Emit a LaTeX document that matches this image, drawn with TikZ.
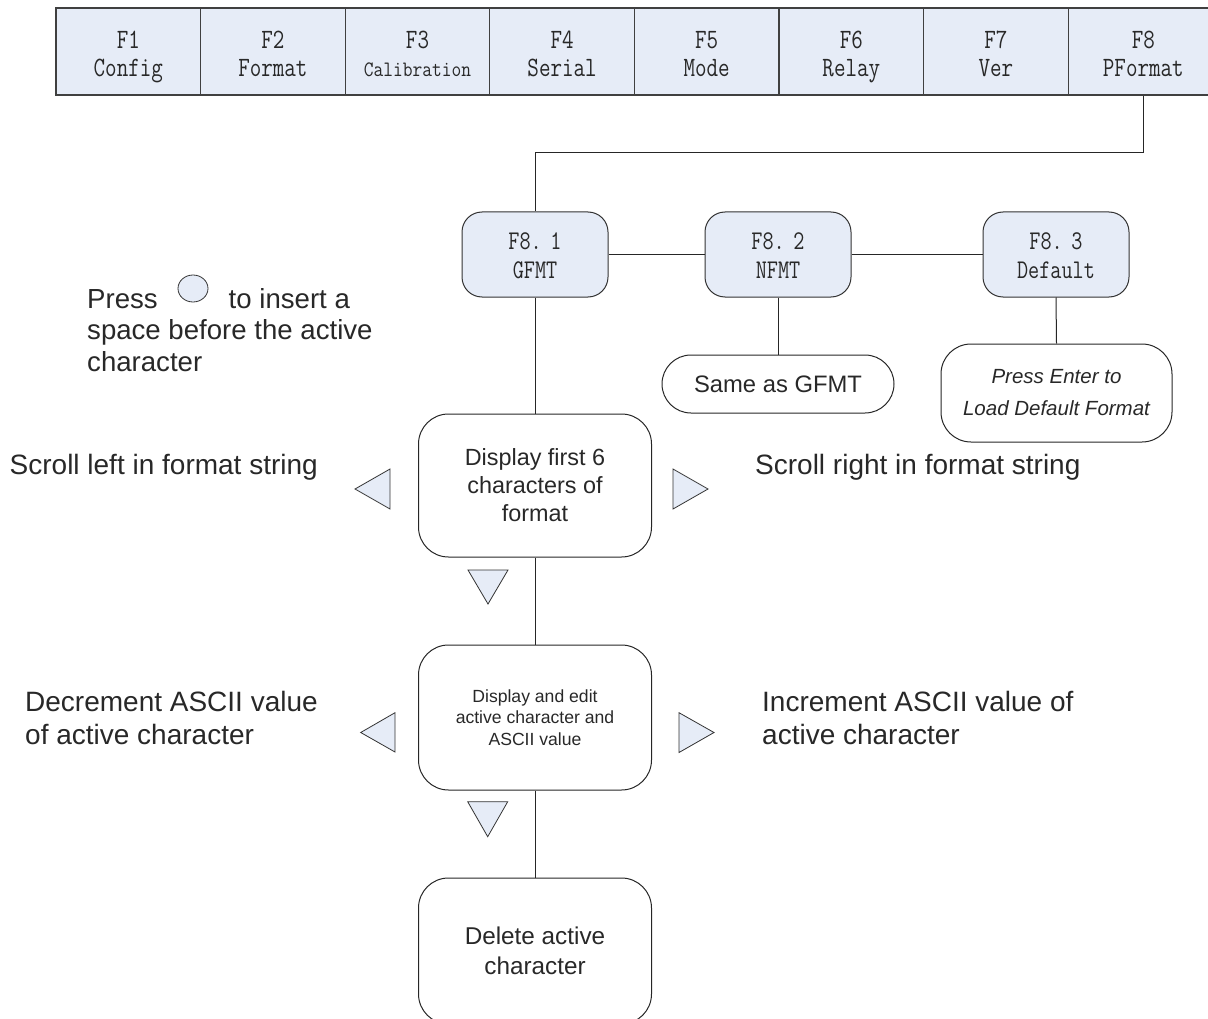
\documentclass[tikz,border=0pt]{standalone}
\usepackage{fontspec}
\setmainfont{Liberation Sans}
\usepackage{graphicx}
\usetikzlibrary{shapes.geometric}
\definecolor{keyblue}{RGB}{230,236,247}
\definecolor{ink}{RGB}{40,40,40}
\newcommand\narrowtxt[1]{\scalebox{0.8}[1]{#1\strut}}
\newcommand\toptxt[1]{\scalebox{0.8}[1]{\rule{0pt}{30pt}#1\strut}}
\newcommand\subtxt[1]{\scalebox{0.8}[1]{\rule{0pt}{27pt}#1\strut}}
\begin{document}
\begin{tikzpicture}[x=1pt,y=-1pt,
  fkey/.style={draw=black!75, fill=keyblue, line width=1.2pt, minimum width=144.6pt, minimum height=87pt, inner sep=0pt, align=center, text=ink, font=\ttfamily\fontsize{28}{28}\selectfont},
  subkey/.style={draw=black!80, fill=keyblue, line width=1pt, rounded corners=20pt, minimum width=146pt, minimum height=85pt, inner sep=0pt, align=center, text=ink, font=\ttfamily\fontsize{27}{29}\selectfont},
  stepbox/.style={draw=black!85, line width=1pt, rounded corners=30pt, minimum width=233pt, inner sep=0pt, align=center, text=ink},
  tri/.style={draw=black!80, fill=keyblue, line width=0.8pt},
  conn/.style={draw=black!85, line width=1pt},
  lbl/.style={inner sep=0pt, align=left, text=ink, font=\fontsize{28}{33}\selectfont}
]
\useasboundingbox (0,0) rectangle (1208,1019);

% top menu bar
\node[fkey] (f1) at (128.3,51.5) {\toptxt{F1}\\\narrowtxt{Config}};
\node[fkey] (f2) at (272.9,51.5) {\toptxt{F2}\\\narrowtxt{Format}};
\node[fkey] (f3) at (417.5,51.5) {\toptxt{F3}\\{\fontsize{22}{28}\selectfont\scalebox{0.86}[1]{Calibration\strut}}};
\node[fkey] (f4) at (562.1,51.5) {\toptxt{F4}\\\narrowtxt{Serial}};
\node[fkey] (f5) at (706.7,51.5) {\toptxt{F5}\\\narrowtxt{Mode}};
\node[fkey] (f6) at (851.3,51.5) {\toptxt{F6}\\\narrowtxt{Relay}};
\node[fkey] (f7) at (995.9,51.5) {\toptxt{F7}\\\narrowtxt{Ver}};
\node[fkey, minimum width=150pt] (f8) at (1143.3,51.5) {\toptxt{F8}\\\narrowtxt{PFormat}};

% F8 sub menu
\node[subkey] (g1) at (535,254.5) {\subtxt{F8.\kern-3pt\ 1}\\\narrowtxt{GFMT}};
\node[subkey] (g2) at (778,254.5) {\subtxt{F8.\kern-3pt\ 2}\\\narrowtxt{NFMT}};
\node[subkey] (g3) at (1056,254.5) {\subtxt{F8.\kern-3pt\ 3}\\\narrowtxt{Default}};

\node[stepbox, rounded corners=29pt, minimum width=232pt, minimum height=58pt, font=\fontsize{23.8}{28}\selectfont] (same) at (778,384) {Same as GFMT};
\node[stepbox, minimum width=231pt, minimum height=98pt, font=\itshape\fontsize{20.5}{32}\selectfont] (dflt) at (1056.5,393) {Press Enter to\\Load Default Format};

\node[stepbox, minimum height=143pt, font=\fontsize{23.4}{28}\selectfont] (s1) at (535,485.5) {Display first 6\\characters of\\format};
\node[stepbox, minimum height=145pt, font=\fontsize{17.6}{21.7}\selectfont] (s2) at (535,717.5) {Display and edit\\active character and\\ASCII value};
\node[stepbox, minimum height=146pt, font=\fontsize{24.3}{30}\selectfont] (s3) at (535,951) {Delete active\\character};

% connectors
\draw[conn] ([xshift=-0.3pt]f8.south) -- ++(0,57) -| (g1.north);
\draw[conn] (g1.east) -- (g2.west);
\draw[conn] (g2.east) -- (g3.west);
\draw[conn] (g2.south) -- (same.north);
\draw[conn] (g3.south) -- (dflt.north);
\draw[conn] (g1.south) -- (s1.north);
\draw[conn] (s1.south) -- (s2.north);
\draw[conn] (s2.south) -- (s3.north);

% key triangles
\draw[tri] (355,489) -- (390,469) -- (390,509) -- cycle;
\draw[tri] (708,489) -- (673,469) -- (673,509) -- cycle;
\draw[tri] (468,570) -- (508,570) -- (488,604) -- cycle;
\draw[tri] (360.7,732.5) -- (395,712.7) -- (395,752) -- cycle;
\draw[tri] (714,732.5) -- (679,712.7) -- (679,752.5) -- cycle;
\draw[tri] (467.7,801.7) -- (507.7,801.7) -- (487.7,836.7) -- cycle;

% side labels
\node[lbl, anchor=east] (tl1) at (318,467) {Scroll left in format string};
\node[lbl, anchor=west] (tr1) at (755,467) {Scroll right in format string};
\node[lbl, anchor=west] (tl2) at (25,718) {Decrement ASCII value\\of active character};
\node[lbl, anchor=west] (tr2) at (762,718) {Increment ASCII value of\\active character};
\node[lbl, anchor=west, font=\fontsize{27.6}{31.5}\selectfont] (press) at (87,330) {Press\hspace*{71pt}to insert a\\space before the active\\character};
\node[draw=black!80, fill=keyblue, line width=0.8pt, ellipse, minimum width=30pt, minimum height=27pt, inner sep=0pt] (btn) at (193,288.5) {};
\end{tikzpicture}
\end{document}
